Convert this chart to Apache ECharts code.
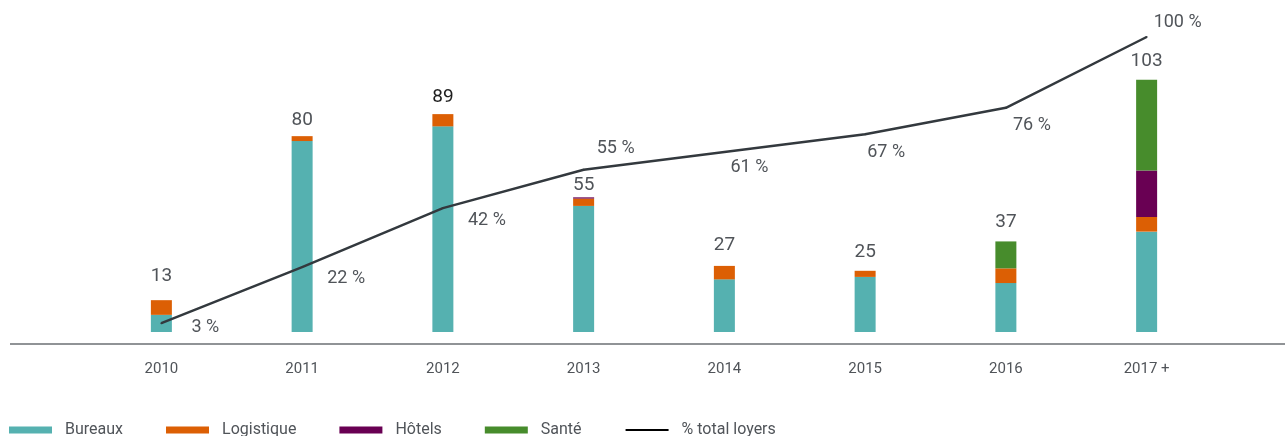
<!DOCTYPE html>
<html>
<head>
<meta charset="utf-8">
<script src="https://cdn.jsdelivr.net/npm/echarts@6/dist/echarts.min.js"></script>
<style>
  html, body { margin: 0; padding: 0; background: #fff; }
  #main { width: 1285px; height: 436px; }
</style>
</head>
<body>
<div id="main"></div>
<script>
var years = ['2010', '2011', '2012', '2013', '2014', '2015', '2016', '2017 +'];
var bureaux = [7, 78, 84, 51.5, 21.5, 22.5, 20, 41];
var logistique = [6, 2, 5, 3, 5.5, 2.5, 6, 6];
var hotels = [0, 0, 0, 0.5, 0, 0, 0, 19];
var sante = [0, 0, 0, 0, 0, 0, 11, 37];
var totals = [13, 80, 89, 55, 27, 25, 37, 103];
var pctLoyers = [3, 22, 42, 55, 61, 67, 76, 100];

// label placement tweaks
var pctOffsets = [[44, 4], [44, 11], [44, 12], [32, -21], [25, 15], [21, 18], [26, 18], [31, -15]];
var totalOffsets = [-5, 3, 2, 7, -2, 0, 0, 0];

var font = 'Roboto, "Liberation Sans", sans-serif';
var textGrey = '#505459';

var myChart = echarts.init(document.getElementById('main'));

function barSeries(name, data, color) {
  return {
    name: name,
    type: 'bar',
    stack: 'loyers',
    barWidth: 21,
    yAxisIndex: 0,
    itemStyle: { color: color },
    data: data
  };
}

var option = {
  animation: false,
  textStyle: { fontFamily: font },
  grid: { left: 91, right: 68, top: 37, bottom: 104 },
  legend: {
    left: 4,
    top: 417,
    itemWidth: 43,
    itemHeight: 7,
    itemGap: 43,
    textStyle: { fontSize: 16, color: textGrey, fontFamily: font, padding: [0, 0, 0, 8] },
    data: [
      { name: 'Bureaux', icon: 'rect' },
      { name: 'Logistique', icon: 'rect' },
      { name: 'Hôtels', icon: 'rect' },
      { name: 'Santé', icon: 'rect' },
      { name: '% total loyers', itemStyle: { opacity: 0 }, lineStyle: { color: '#000', width: 2 } }
    ]
  },
  xAxis: {
    type: 'category',
    data: years,
    axisLine: { show: false },
    axisTick: { show: false },
    axisLabel: { margin: 30, fontSize: 15, color: textGrey, fontFamily: font }
  },
  yAxis: [
    { type: 'value', min: 0, max: 120.5, show: false },
    { type: 'value', min: 0, max: 100, show: false }
  ],
  graphic: [{
    type: 'line',
    shape: { x1: 10, y1: 344, x2: 1285, y2: 344 },
    style: { stroke: '#6b6f73', lineWidth: 1.5 }
  }],
  series: [
    barSeries('Bureaux', bureaux, '#55b1b0'),
    barSeries('Logistique', logistique, '#dc5f04'),
    barSeries('Hôtels', hotels, '#690053'),
    barSeries('Santé', sante, '#478c2c'),
    {
      name: 'totaux',
      type: 'scatter',
      yAxisIndex: 0,
      symbolSize: 1,
      itemStyle: { color: 'transparent', opacity: 1 },
      label: {
        show: true,
        position: 'top',
        distance: 9,
        fontSize: 19,
        color: textGrey,
        fontFamily: font
      },
      data: totals.map(function (v, i) {
        var lab = { offset: [0, totalOffsets[i]] };
        if (i === 2) lab.color = '#1e1e1e';
        return { value: v, label: lab };
      }),
      z: 5
    },
    {
      name: '% total loyers',
      type: 'line',
      yAxisIndex: 1,
      symbol: 'circle',
      symbolSize: 2,
      itemStyle: { color: '#33393e' },
      lineStyle: { color: '#33393e', width: 2.5 },
      label: {
        show: true,
        position: 'inside',
        fontSize: 18,
        color: textGrey,
        fontFamily: font,
        formatter: '{c} %'
      },
      data: pctLoyers.map(function (v, i) {
        return { value: v, label: { offset: pctOffsets[i] } };
      }),
      z: 6
    }
  ]
};

myChart.setOption(option);
</script>
</body>
</html>
